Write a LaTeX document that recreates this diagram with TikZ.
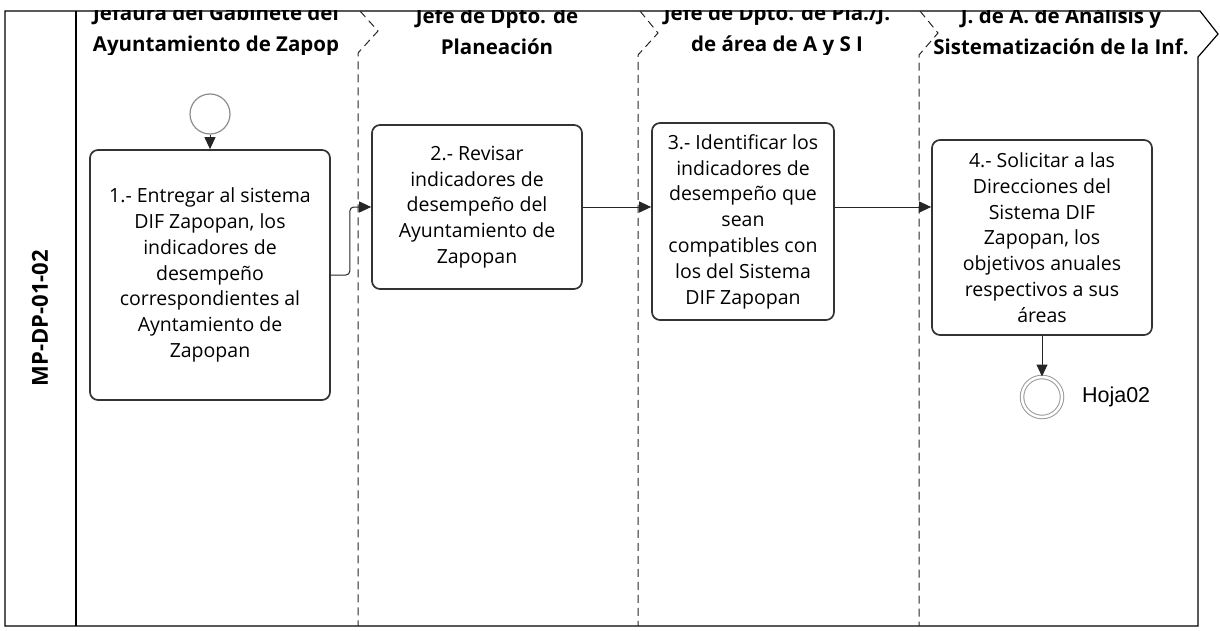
\documentclass[tikz,border=0pt]{standalone}
\usepackage{fontspec}
\setmainfont{Open Sans}
\newfontfamily\arialfont{Liberation Sans}
\usetikzlibrary{arrows.meta,positioning}

\begin{document}
\begin{tikzpicture}[x=1pt,y=-1pt,
    actividad/.style={draw=black!80,line width=1.7pt,rounded corners=8pt,align=center,
        font=\fontsize{19.5}{25.8}\selectfont,inner sep=2pt},
    encabezado/.style={align=center,font=\bfseries\fontsize{20.5}{31}\selectfont},
    carril/.style={draw=black!85,dash pattern=on 8pt off 5pt,line width=1pt},
    flecha/.style={-{Triangle[length=12pt,width=11pt]},line width=1pt,draw=black!85}]
    \useasboundingbox (0,0) rectangle (1220,631);

    \draw[line width=1.2pt] (5,11) -- (1200,11) -- (1218,34) -- (1198,57) -- (1198,626) -- (5,626) -- cycle;
    \draw[line width=1.2pt] (76,11) -- (76,626);
    \draw[carril] (360,11) -- (378,31) -- (358,53) -- (358,626);
    \draw[carril] (640,11) -- (658,33) -- (638,55) -- (638,626);
    \draw[carril] (920,11) -- (938,33) -- (919,55) -- (919,626);

    \node[rotate=90,font=\bfseries\fontsize{22}{24}\selectfont] (codigo) at (40,318) {MP-DP-01-02};

    \begin{scope}
        \clip (76,11) rectangle (1198,54.5);
        \node[encabezado] (carril1) at (216,31) {Jefaura del Gabinete del\\Ayuntamiento de Zapop};
        \node[encabezado] (carril2) at (497,31) {Jefe de Dpto. de\\Planeación};
        \node[encabezado] (carril3) at (777,31) {Jefe de Dpto. de Pla./J.\\de área de A y S I};
        \node[encabezado] (carril4) at (1061,31) {J. de A. de Análisis y\\Sistematización de la Inf.};
    \end{scope}

    \node[circle,draw=black!45,line width=1.2pt,minimum size=40pt,inner sep=0pt] (inicio) at (210,114) {};

    \node[actividad,minimum width=240pt,minimum height=250pt] (p1) at (210,275)
        {1.- Entregar al sistema\\DIF Zapopan, los\\indicadores de\\desempeño\\correspondientes al\\Ayntamiento de\\Zapopan};
    \node[actividad,minimum width=210pt,minimum height=164pt] (p2) at (477,207)
        {2.- Revisar\\indicadores de\\desempeño del\\Ayuntamiento de\\Zapopan};
    \node[actividad,minimum width=182pt,minimum height=197pt] (p3) at (743,221.5)
        {3.- Identificar los\\indicadores de\\desempeño que\\sean\\compatibles con\\los del Sistema\\DIF Zapopan};
    \node[actividad,minimum width=220pt,minimum height=195pt] (p4) at (1042,237.5)
        {4.- Solicitar a las\\Direcciones del\\Sistema DIF\\Zapopan, los\\objetivos anuales\\respectivos a sus\\áreas};

    \node[circle,draw=black!40,double,double distance=2.5pt,line width=1pt,minimum size=40pt,inner sep=0pt] (fin) at (1042,397) {};
    \node[right=16pt of fin,font=\arialfont\fontsize{21.5}{23}\selectfont] (hoja) {Hoja02};

    \draw[flecha] (inicio) -- (p1);
    \draw[flecha,rounded corners=4pt] (p1.east) -- ++(19,0) |- (p2.west);
    \draw[flecha] (p2.east) -- (p2.east -| p3.west);
    \draw[flecha] (p2.east -| p3.east) -- (p2.east -| p4.west);
    \draw[flecha] (p4) -- (fin);
\end{tikzpicture}
\end{document}
